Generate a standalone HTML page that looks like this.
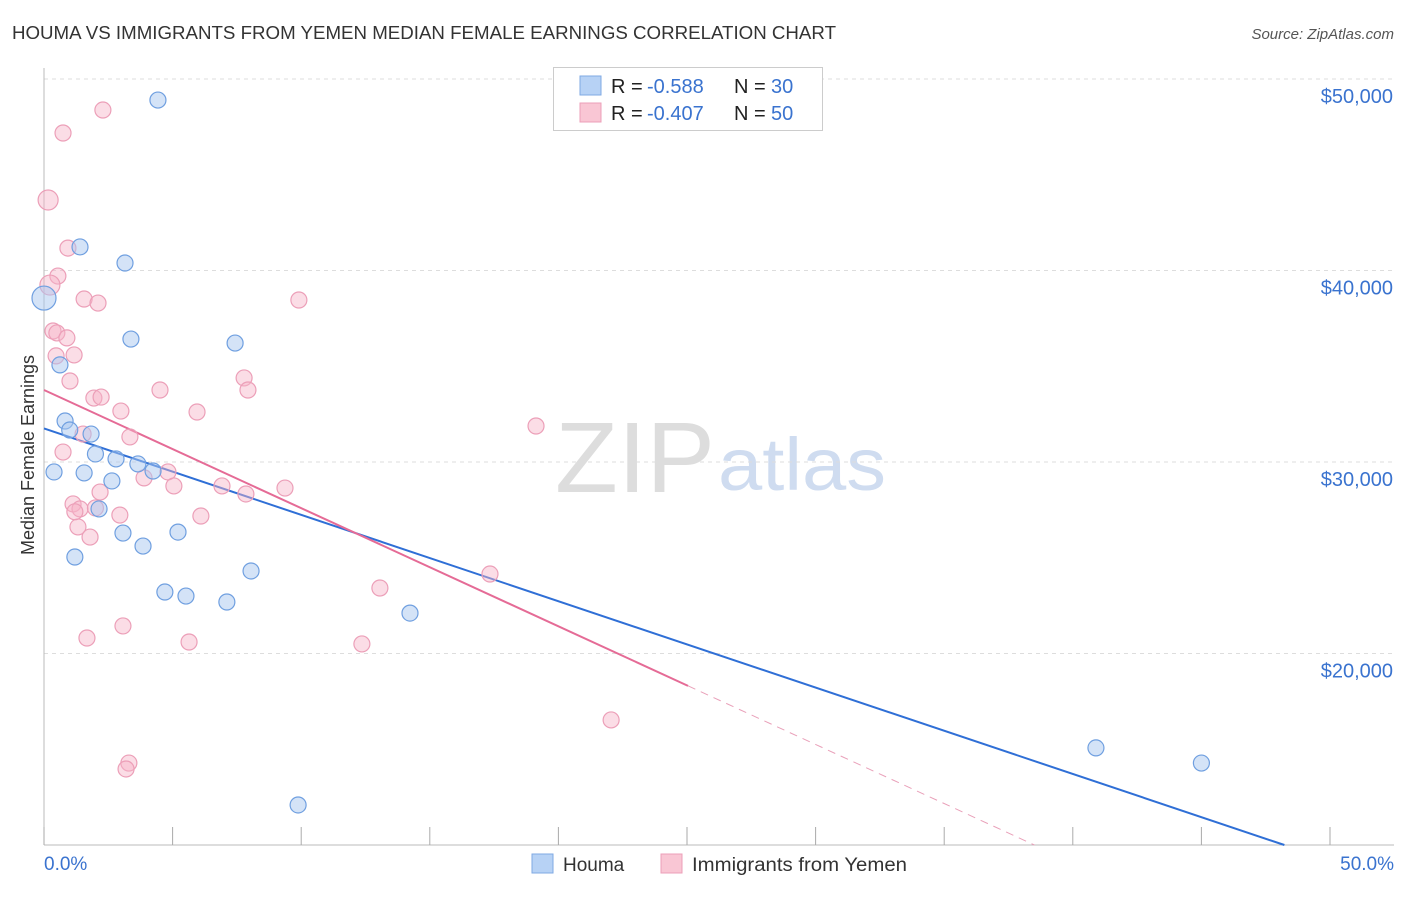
<!DOCTYPE html>
<html><head><meta charset="utf-8"><style>
body{margin:0;background:#fff;font-family:"Liberation Sans",sans-serif;}
svg text{font-family:"Liberation Sans",sans-serif;}
</style></head><body>
<svg id="c" width="1406" height="892" xmlns="http://www.w3.org/2000/svg">
<text x="12" y="39" font-size="18" fill="#333" textLength="824" lengthAdjust="spacingAndGlyphs">HOUMA VS IMMIGRANTS FROM YEMEN MEDIAN FEMALE EARNINGS CORRELATION CHART</text>
<text x="1394" y="39" font-size="15" fill="#555" font-style="italic" text-anchor="end">Source: ZipAtlas.com</text>
<text x="34" y="455" font-size="18" fill="#333" text-anchor="middle" transform="rotate(-90 34 455)">Median Female Earnings</text>
<g>
<text x="635" y="492" font-size="100" fill="#ddd" font-family="Liberation Serif" text-anchor="middle" textLength="160" lengthAdjust="spacingAndGlyphs">ZIP</text>
<text x="802" y="490" font-size="74" fill="#cfdcf0" text-anchor="middle" textLength="168" lengthAdjust="spacingAndGlyphs">atlas</text>
</g>
<g id="grid"></g><g id="axes"></g><g id="lines"></g><g id="pts"></g>
<g>
<rect x="553.5" y="67.5" width="269" height="63" fill="#fff" stroke="#ccc"/>
<rect x="580" y="76" width="21" height="19" fill="#b7d2f5" stroke="#7fa9e3"/>
<rect x="580" y="103" width="21" height="19" fill="#f9c6d4" stroke="#ec9fb8"/>
<text x="611" y="93" font-size="20" fill="#222">R = <tspan x="647" fill="#3a73cf">-0.588</tspan><tspan x="734">N = </tspan><tspan x="771" fill="#3a73cf">30</tspan></text>
<text x="611" y="120" font-size="20" fill="#222">R = <tspan x="647" fill="#3a73cf">-0.407</tspan><tspan x="734">N = </tspan><tspan x="771" fill="#3a73cf">50</tspan></text>
</g>
<g>
<rect x="532" y="854" width="21" height="19" fill="#b7d2f5" stroke="#7fa9e3"/>
<text x="563" y="871" font-size="19" fill="#333">Houma</text>
<rect x="661" y="854" width="21" height="19" fill="#f9c6d4" stroke="#ec9fb8"/>
<text x="692" y="871" font-size="19" fill="#333" textLength="215" lengthAdjust="spacingAndGlyphs">Immigrants from Yemen</text>
</g>
</svg>
<script>
const yTicks=[20000,30000,40000,50000];
const yTickLabels=["$20,000","$30,000","$40,000","$50,000"];
const xTickLabels=["0.0%","50.0%"];
const houmaX=[4.43,1.4,3.15,3.38,7.43,0.62,0,0.82,1.0,1.83,2.0,2.8,3.65,4.24,0.39,1.56,2.64,2.14,3.07,5.21,3.85,1.2,8.05,4.7,5.52,7.11,14.23,40.9,45.0,9.88];
const houmaY=[48900,41230,40390,36420,36210,35070,38560,32140,31670,31460,30420,30160,29900,29530,29480,29430,29010,27550,26290,26340,25610,25040,24310,23210,23000,22690,22110,15070,14280,12090];
const yemenX=[2.29,0.74,0.16,0.93,0.54,0.23,1.56,2.1,9.91,0.35,0.5,0.89,1.17,0.47,1.01,7.78,7.93,4.51,1.94,2.22,2.99,5.95,19.13,1.52,3.34,0.74,4.82,3.89,5.05,6.92,9.37,2.18,7.85,1.13,1.4,2.0,2.95,6.1,1.32,1.79,17.34,13.06,3.07,1.67,5.64,12.36,22.05,3.3,3.19,1.2];
const yemenY=[48380,47180,43680,41170,39710,39240,38510,38300,38460,36840,36740,36480,35590,35540,34230,34390,33760,33760,33340,33390,32660,32610,31880,31460,31310,30520,29480,29170,28750,28750,28640,28430,28330,27810,27550,27600,27230,27180,26610,26080,24150,23420,21440,20810,20600,20500,16530,14280,13970,27400];
const houmaTrend=[31750,-451];
const yemenTrend=[33760,-617];
const xs=p=>44+p*25.72, ys=v=>79+(50000-v)*0.01915;
const NS="http://www.w3.org/2000/svg";
function mk(t,a,parent){const e=document.createElementNS(NS,t);for(const k in a)e.setAttribute(k,a[k]);document.getElementById(parent).appendChild(e);return e;}
yTicks.forEach((v,i)=>{
 const g=mk('line',{x1:44,x2:1394,y1:ys(v),y2:ys(v),stroke:'#ddd','stroke-dasharray':'4 4'},'grid');
 
 
 const t=mk('text',{x:1393,y:ys(v)+24,'font-size':20,fill:'#3a73cf','text-anchor':'end'},'axes');t.textContent=yTickLabels[i];
 
 
});
mk('line',{x1:44,x2:44,y1:68,y2:845,stroke:'#bbb'},'axes');
mk('line',{x1:44,x2:1394,y1:845,y2:845,stroke:'#bbb'},'axes');
for(let i=0;i<=10;i++){const l=mk('line',{x1:xs(i*5),x2:xs(i*5),y1:827,y2:845,stroke:'#aaa'},'axes');
 
 }
let t1=mk('text',{x:44,y:870,'font-size':19,fill:'#3a73cf'},'axes');t1.textContent=xTickLabels[0];


let t2=mk('text',{x:1394,y:870,'font-size':19,fill:'#3a73cf','text-anchor':'end'},'axes');t2.textContent=xTickLabels[1];


function trend(tr,x0,x1){return [xs(x0),ys(tr[0]+tr[1]*x0),xs(x1),ys(tr[0]+tr[1]*x1)];}
const xEndH=(10000-houmaTrend[0])/houmaTrend[1];
let a=trend(houmaTrend,0,xEndH);
let hl=mk('line',{x1:a[0],y1:a[1],x2:a[2],y2:a[3],stroke:'#2f6fd6','stroke-width':2},'lines');


a=trend(yemenTrend,0,25.04);
let yl=mk('line',{x1:a[0],y1:a[1],x2:a[2],y2:a[3],stroke:'#e56b96','stroke-width':2},'lines');


const xEndY=(10000-yemenTrend[0])/yemenTrend[1];
a=trend(yemenTrend,25.04,xEndY);
let yd=mk('line',{x1:a[0],y1:a[1],x2:a[2],y2:a[3],stroke:'#e9a0b9','stroke-width':1,'stroke-dasharray':'8 6'},'lines');


yemenX.forEach((x,i)=>{const c=mk('circle',{cx:xs(x),cy:ys(yemenY[i]),r:(i==2||i==5)?10:8,fill:'rgba(246,180,200,0.45)',stroke:'#ec9fb8','stroke-width':1.2},'pts');
 
 });
houmaX.forEach((x,i)=>{const c=mk('circle',{cx:xs(x),cy:ys(houmaY[i]),r:i==6?12:8,fill:'rgba(170,200,240,0.5)',stroke:'#6f9fe0','stroke-width':1.2},'pts');
 
 });
</script>
</body></html>
